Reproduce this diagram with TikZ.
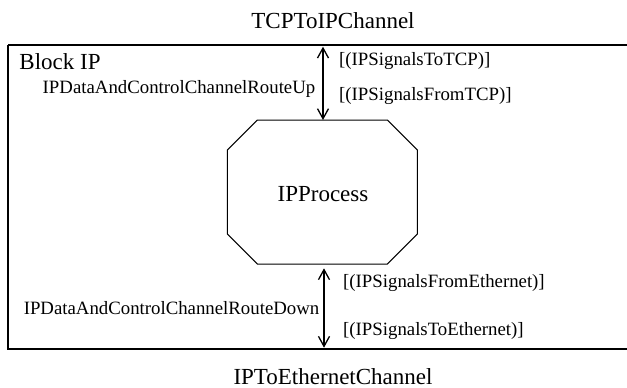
\documentclass[tikz,border=0pt]{standalone}
\usepackage{fontspec}
\setmainfont{Liberation Serif}
\usetikzlibrary{arrows.meta}
\begin{document}
\begin{tikzpicture}[x=1pt,y=-1pt,
  big/.style={font=\fontsize{23}{23}\selectfont, inner sep=0pt},
  small/.style={font=\fontsize{18.8}{19}\selectfont, inner sep=0pt},
  chan/.style={line width=1.3pt, {Straight Barb[length=10pt,width=11pt]}-{Straight Barb[length=10pt,width=11pt]}},
  blockframe/.style={line width=1.7pt},
  proc/.style={line width=1pt, line join=miter},
]
\useasboundingbox (0,0) rectangle (627,388);
\begin{scope}
\clip (0,0) rectangle (627,388);
% block frame (extends past the right edge)
\draw[blockframe] (8,45) -- (640,45) (8,45) -- (8,349) -- (640,349);
\end{scope}
% process octagon
\draw[proc] (257.3,120) -- (387.3,120) -- (417.3,150) -- (417.3,234) -- (387.3,264)
  -- (257.3,264) -- (227.3,234) -- (227.3,150) -- cycle;
\node[big, anchor=base] (proc) at (323,201) {IPProcess};
% channel titles
\node[big, anchor=base] (tcpch) at (333,28.3) {TCPToIPChannel};
\node[big, anchor=base] (ethch) at (333,384) {IPToEthernetChannel};
\node[big, anchor=base west] (blk) at (19.3,69.7) {Block IP};
% connection points
\coordinate (upA) at (323,46.7);
\coordinate (upB) at (323,120);
\coordinate (dnA) at (324,268.3);
\coordinate (dnB) at (324,347.7);
\draw[chan] (upA) -- (upB);
\draw[chan] (dnA) -- (dnB);
% route labels
\node[small, anchor=base east] (rup) at (315.5,93.7) {IPDataAndControlChannelRouteUp};
\node[small, anchor=base east] (rdn) at (319.5,314) {IPDataAndControlChannelRouteDown};
\node[small, anchor=base west] (s1) at (339,65.3) {[(IPSignalsToTCP)]};
\node[small, anchor=base west] (s2) at (339,100.3) {[(IPSignalsFromTCP)]};
\node[small, anchor=base west] (s3) at (343,287) {[(IPSignalsFromEthernet)]};
\node[small, anchor=base west] (s4) at (343,335) {[(IPSignalsToEthernet)]};
\end{tikzpicture}
\end{document}
